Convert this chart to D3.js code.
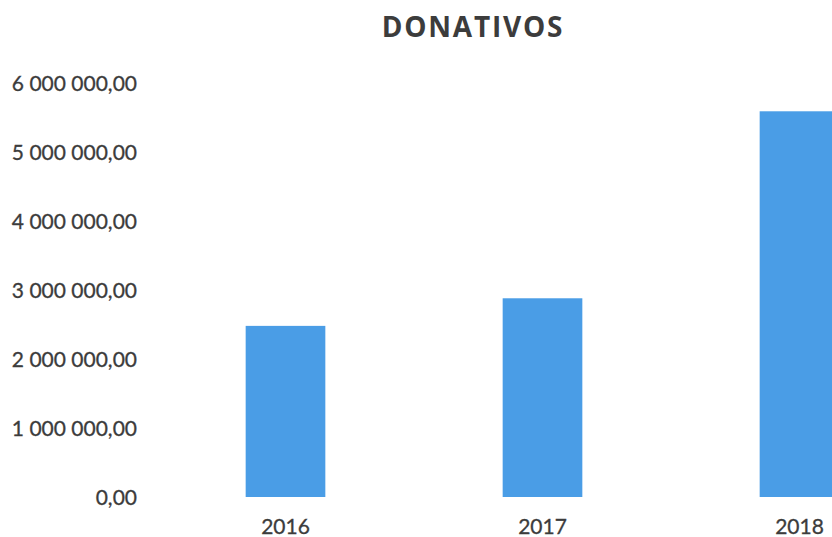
<!DOCTYPE html>
<html>
<head>
<meta charset="utf-8">
<script src="https://cdn.jsdelivr.net/npm/d3@7"></script>
<style>
  html, body { margin: 0; padding: 0; background: #fff; overflow: hidden; }
  svg { display: block; }
</style>
</head>
<body>
<svg id="chart" width="832" height="537"></svg>
<script>
const title = "DONATIVOS";
const years = ["2016", "2017", "2018"];
const values = [2480000, 2880000, 5590000];
const yTicks = [0, 1000000, 2000000, 3000000, 4000000, 5000000, 6000000];

const svg = d3.select("#chart");
const textColor = "#3c3c3c";
const barColor = "#4a9de6";
const font = "Lato, 'Open Sans', sans-serif";

const locale = d3.formatLocale({ decimal: ",", thousands: "\u00a0", grouping: [3], currency: ["", ""] });
const fmt = locale.format(",.2f");

const x = d3.scaleBand().domain(years).range([157, 928]).paddingInner(0.69).paddingOuter(0.345);
const y = d3.scaleLinear().domain([0, 6000000]).range([497, 83]);

// title
svg.append("text")
  .attr("x", 473).attr("y", 37)
  .attr("text-anchor", "middle")
  .attr("font-family", "'Open Sans', Lato, sans-serif").attr("font-weight", "bold").attr("font-size", 28)
  .attr("letter-spacing", 1.8)
  .attr("fill", textColor)
  .text(title);

// y axis labels
const yAxis = d3.axisLeft(y).tickValues(yTicks).tickFormat(fmt).tickSize(0).tickPadding(0);
const yg = svg.append("g").attr("transform", "translate(137,0)").call(yAxis);
yg.select(".domain").remove();
yg.selectAll("text")
  .attr("font-family", font).attr("font-size", 21).attr("fill", textColor)
  .attr("stroke", textColor).attr("stroke-width", 0.3)
  .attr("dy", "0.36em");

// bars
svg.append("g").selectAll("rect")
  .data(years.map((yr, i) => ({ yr, v: values[i] })))
  .join("rect")
  .attr("x", d => x(d.yr))
  .attr("width", x.bandwidth())
  .attr("y", d => y(d.v))
  .attr("height", d => y(0) - y(d.v))
  .attr("fill", barColor);

// x axis labels
const xAxis = d3.axisBottom(x).tickSize(0).tickPadding(0);
const xg = svg.append("g").attr("transform", "translate(0,519)").call(xAxis);
xg.select(".domain").remove();
xg.selectAll("text")
  .attr("font-family", font).attr("font-size", 21).attr("fill", textColor)
  .attr("stroke", textColor).attr("stroke-width", 0.3)
  .attr("dy", "0.71em");
</script>
</body>
</html>
